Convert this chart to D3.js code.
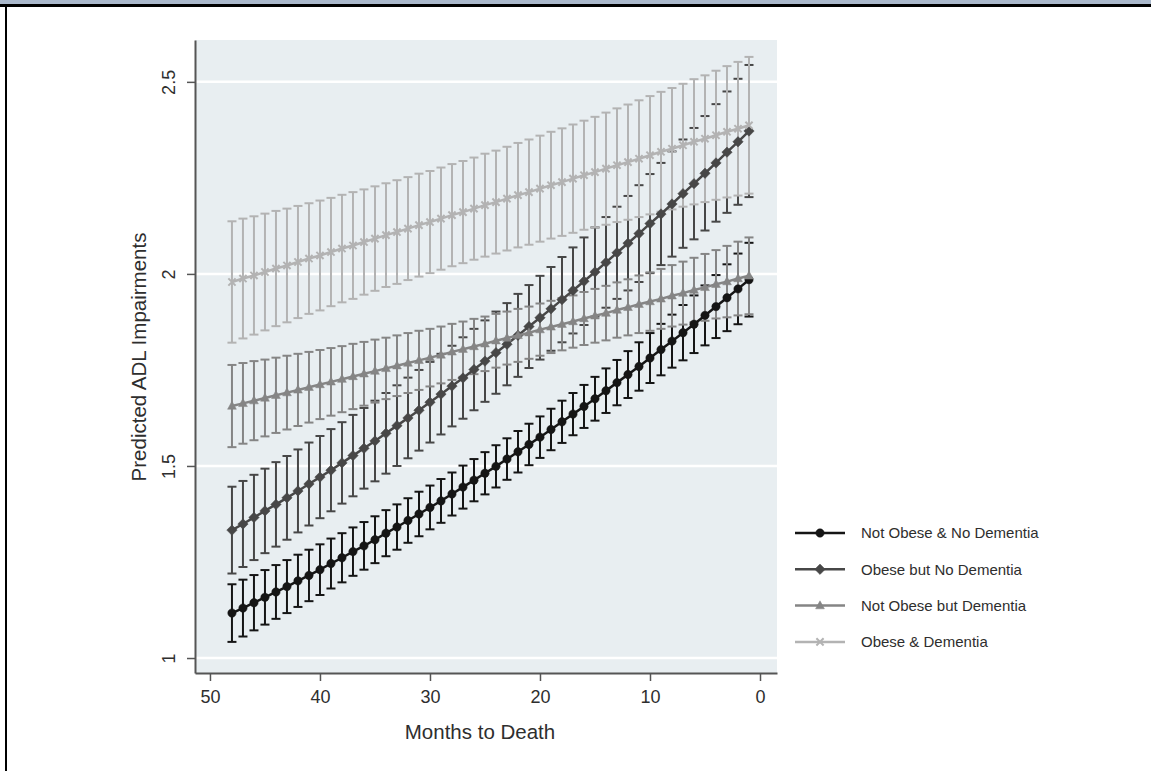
<!DOCTYPE html>
<html>
<head>
<meta charset="utf-8">
<script src="https://cdn.jsdelivr.net/npm/d3@7"></script>
<style>
  body { margin: 0; background: #fff; }
  svg { display: block; }
  text { font-family: "Liberation Sans", Arial, Helvetica, sans-serif; }
</style>
</head>
<body>
<svg id="chart" width="1151" height="771"></svg>
<script>
// Months before death, from 48 down to 1
const months = [48,47,46,45,44,43,42,41,40,39,38,37,36,35,34,33,32,31,30,29,28,27,26,25,
                24,23,22,21,20,19,18,17,16,15,14,13,12,11,10,9,8,7,6,5,4,3,2,1];

// Predicted ADL impairments (point estimates) and 95% CI half-widths
const notObeseNoDementia = [1.117,1.130,1.144,1.158,1.172,1.186,1.201,1.215,1.230,1.246,1.261,1.277,
  1.292,1.308,1.325,1.341,1.358,1.375,1.392,1.409,1.427,1.445,1.463,1.481,1.499,1.518,1.537,1.556,
  1.575,1.595,1.615,1.635,1.655,1.675,1.696,1.717,1.738,1.759,1.781,1.803,1.825,1.847,1.869,1.892,
  1.915,1.938,1.961,1.985];
const notObeseNoDementiaCI = [.075,.074,.072,.071,.070,.069,.068,.067,.066,.065,.064,.063,.062,.061,
  .060,.059,.058,.058,.057,.057,.056,.056,.055,.055,.055,.054,.054,.054,.054,.054,.055,.055,.056,.057,
  .058,.059,.061,.063,.065,.067,.069,.072,.075,.078,.082,.087,.092,.096];

const obeseNoDementia = [1.333,1.349,1.366,1.383,1.400,1.417,1.435,1.453,1.471,1.489,1.508,1.527,
  1.546,1.565,1.585,1.605,1.625,1.645,1.666,1.687,1.708,1.729,1.751,1.773,1.795,1.817,1.840,1.863,
  1.886,1.909,1.933,1.957,1.981,2.005,2.030,2.055,2.080,2.105,2.131,2.156,2.182,2.209,2.235,2.262,
  2.289,2.317,2.344,2.372];
const obeseNoDementiaCI = [.113,.112,.111,.110,.110,.109,.108,.108,.107,.107,.106,.106,.105,.105,
  .105,.105,.105,.105,.105,.105,.105,.106,.106,.106,.107,.107,.108,.108,.109,.109,.111,.112,.114,.116,
  .118,.120,.123,.126,.129,.133,.137,.141,.145,.149,.153,.158,.164,.172];

const notObeseDementia = [1.656,1.663,1.670,1.677,1.684,1.691,1.698,1.705,1.712,1.719,1.726,1.733,
  1.740,1.747,1.754,1.761,1.768,1.775,1.782,1.789,1.797,1.804,1.811,1.818,1.826,1.833,1.840,1.847,
  1.855,1.862,1.869,1.876,1.884,1.891,1.898,1.906,1.913,1.921,1.928,1.935,1.943,1.950,1.958,1.965,
  1.973,1.980,1.988,1.995];
const notObeseDementiaCI = [.107,.105,.103,.100,.098,.096,.094,.092,.090,.088,.086,.085,.083,.082,
  .080,.079,.078,.077,.075,.074,.073,.072,.072,.071,.070,.069,.069,.068,.068,.068,.068,.068,.069,.070,
  .071,.072,.073,.075,.076,.078,.080,.082,.084,.087,.089,.093,.096,.100];

const obeseDementia = [1.979,1.988,1.996,2.005,2.014,2.022,2.031,2.040,2.048,2.057,2.066,2.074,
  2.083,2.092,2.101,2.109,2.118,2.127,2.135,2.144,2.153,2.161,2.170,2.179,2.187,2.196,2.205,2.213,
  2.222,2.231,2.239,2.248,2.257,2.265,2.274,2.283,2.291,2.300,2.309,2.318,2.326,2.335,2.344,2.352,
  2.361,2.370,2.378,2.387];
const obeseDementiaCI = [.158,.156,.154,.152,.150,.148,.146,.144,.143,.141,.140,.139,.137,.136,
  .135,.135,.134,.134,.133,.133,.133,.133,.133,.134,.134,.135,.136,.137,.138,.139,.140,.141,.142,.144,
  .146,.148,.150,.152,.154,.156,.158,.160,.163,.165,.168,.171,.174,.178];

const seriesLabels = ["Not Obese & No Dementia", "Obese but No Dementia",
                      "Not Obese but Dementia", "Obese & Dementia"];
const yTicks = [1, 1.5, 2, 2.5];
const xTicks = [50, 40, 30, 20, 10, 0];
const xTitle = "Months to Death";
const yTitle = "Predicted ADL Impairments";

const series = [
  { name: seriesLabels[0], est: notObeseNoDementia, ci: notObeseNoDementiaCI, color: "#151515", marker: "circle" },
  { name: seriesLabels[1], est: obeseNoDementia,    ci: obeseNoDementiaCI,    color: "#474747", marker: "diamond" },
  { name: seriesLabels[2], est: notObeseDementia,   ci: notObeseDementiaCI,   color: "#858585", marker: "triangle" },
  { name: seriesLabels[3], est: obeseDementia,      ci: obeseDementiaCI,      color: "#b3b3b3", marker: "x" }
];

const svg = d3.select("#chart");
const W = 1151, H = 771;
svg.append("rect").attr("width", W).attr("height", H).attr("fill", "#fff");

// Page frame: header band, rule and left border
svg.append("rect").attr("x", 0).attr("y", 0).attr("width", W).attr("height", 4).attr("fill", "#aab8cb");
svg.append("rect").attr("x", 0).attr("y", 4).attr("width", W).attr("height", 3).attr("fill", "#000");
svg.append("rect").attr("x", 5).attr("y", 4).attr("width", 2).attr("height", H - 4).attr("fill", "#000");

// Plot region
const plot = { left: 195, right: 777, top: 40, bottom: 673 };
const x = d3.scaleLinear().domain([51.36, -1.545]).range([plot.left, plot.right]);
const y = d3.scaleLinear().domain([0.961, 2.609]).range([plot.bottom, plot.top]);

svg.append("rect")
  .attr("x", plot.left).attr("y", plot.top)
  .attr("width", plot.right - plot.left).attr("height", plot.bottom - plot.top)
  .attr("fill", "#e8eef1");

// Horizontal grid lines
svg.append("g").selectAll("line").data(yTicks).join("line")
  .attr("x1", plot.left).attr("x2", plot.right)
  .attr("y1", d => y(d)).attr("y2", d => y(d))
  .attr("stroke", "#fff").attr("stroke-width", 2.5);

// Axes
const axisColor = "#555";
const yAxis = svg.append("g").attr("transform", `translate(${plot.left},0)`)
  .call(d3.axisLeft(y).tickValues(yTicks).tickFormat(d3.format("")).tickSize(8).tickSizeOuter(0));
const xAxis = svg.append("g").attr("transform", `translate(0,${plot.bottom})`)
  .call(d3.axisBottom(x).tickValues(xTicks).tickFormat(d3.format("d")).tickSize(8).tickSizeOuter(0));

[yAxis, xAxis].forEach(g => {
  g.select(".domain").attr("stroke", axisColor).attr("stroke-width", 2);
  g.selectAll(".tick line").attr("stroke", axisColor).attr("stroke-width", 1.5);
  g.selectAll(".tick text").attr("fill", "#2e2e2e").attr("font-size", 18);
});
yAxis.selectAll(".tick text")
  .attr("transform", "rotate(-90)")
  .attr("x", 0).attr("y", -20).attr("dy", 0)
  .attr("text-anchor", "middle");
xAxis.selectAll(".tick text").attr("y", 17);

// Axis titles
svg.append("text")
  .attr("x", 480).attr("y", 739)
  .attr("text-anchor", "middle").attr("font-size", 20.5).attr("fill", "#2e2e2e")
  .text(xTitle);
svg.append("text")
  .attr("transform", `translate(146,357) rotate(-90)`)
  .attr("text-anchor", "middle").attr("font-size", 20.5).attr("fill", "#2e2e2e")
  .text(yTitle);

// Marker shapes
function markerPath(type) {
  if (type === "circle") return d3.symbol(d3.symbolCircle, 55)();
  if (type === "diamond") return "M0,-5.2L5.2,0L0,5.2L-5.2,0Z";
  if (type === "triangle") return "M0,-4.8L4.4,3.2L-4.4,3.2Z";
  return "M-3.6,-3.6L3.6,3.6M-3.6,3.6L3.6,-3.6";
}

// Confidence-interval caps, all series first
const capHalf = 4.5;
series.forEach(s => {
  const g = svg.append("g").attr("stroke", s.color).attr("stroke-width", 2).attr("fill", "none");
  months.forEach((m, i) => {
    const lo = s.est[i] - s.ci[i], hi = s.est[i] + s.ci[i];
    g.append("line").attr("x1", x(m)).attr("x2", x(m)).attr("y1", y(lo)).attr("y2", y(hi));
    g.append("line").attr("x1", x(m) - capHalf).attr("x2", x(m) + capHalf).attr("y1", y(lo)).attr("y2", y(lo));
    g.append("line").attr("x1", x(m) - capHalf).attr("x2", x(m) + capHalf).attr("y1", y(hi)).attr("y2", y(hi));
  });
});

// Connected estimates with markers
const line = d3.line().x(d => x(d[0])).y(d => y(d[1]));
series.forEach(s => {
  const pts = months.map((m, i) => [m, s.est[i]]);
  svg.append("path").datum(pts).attr("d", line)
    .attr("fill", "none").attr("stroke", s.color).attr("stroke-width", 2.5);
  svg.append("g").selectAll("path").data(pts).join("path")
    .attr("transform", d => `translate(${x(d[0])},${y(d[1])})`)
    .attr("d", markerPath(s.marker))
    .attr("fill", s.marker === "x" ? "none" : s.color)
    .attr("stroke", s.color).attr("stroke-width", s.marker === "x" ? 2 : 0.5);
});

// Legend
const legend = svg.append("g").attr("transform", "translate(795,533)");
series.forEach((s, i) => {
  const row = legend.append("g").attr("transform", `translate(0,${i * 36.3})`);
  row.append("line").attr("x1", 0).attr("x2", 50).attr("y1", 0).attr("y2", 0)
    .attr("stroke", s.color).attr("stroke-width", 2.5);
  row.append("path").attr("transform", "translate(25,0)").attr("d", markerPath(s.marker))
    .attr("fill", s.marker === "x" ? "none" : s.color)
    .attr("stroke", s.color).attr("stroke-width", s.marker === "x" ? 2 : 0.5);
  row.append("text").attr("x", 66).attr("y", 0).attr("dy", "0.35em")
    .attr("font-size", 15).attr("fill", "#2e2e2e").text(s.name);
});
</script>
</body>
</html>
